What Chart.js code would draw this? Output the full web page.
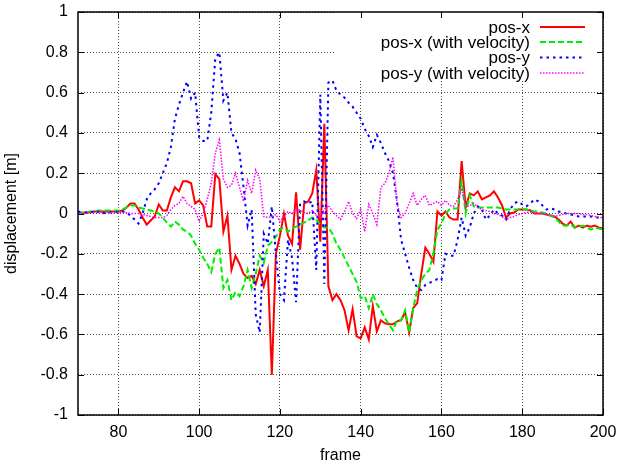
<!DOCTYPE html>
<html><head><meta charset="utf-8">
<script src="https://cdn.jsdelivr.net/npm/chart.js@4/dist/chart.umd.min.js"></script>
<style>html,body{margin:0;padding:0;background:#fff}canvas{display:block}</style>
</head><body>
<canvas id="c" width="619" height="463"></canvas>
<script>
const frames = [
70,71,72,73,74,75,76,77,78,79,
80,81,82,83,84,85,86,87,88,89,
90,91,92,93,94,95,96,97,98,99,
100,101,102,103,104,105,106,107,108,109,
110,111,112,113,114,115,116,117,118,119,
120,121,122,123,124,125,126,127,128,129,
130,131,132,133,134,135,136,137,138,139,
140,141,142,143,144,145,146,147,148,149,
150,151,152,153,154,155,156,157,158,159,
160,161,162,163,164,165,166,167,168,169,
170,171,172,173,174,175,176,177,178,179,
180,181,182,183,184,185,186,187,188,189,
190,191,192,193,194,195,196,197,198,199,
200];
const posX = [
0,0,0.005,0.005,0.01,0.01,0.01,0.01,0.01,0.01,
0.01,0.015,0.03,0.05,0.05,0.02,-0.02,-0.055,-0.035,-0.015,
0.045,0.015,0.015,0.08,0.13,0.11,0.16,0.16,0.15,0.05,
0.065,0.04,-0.065,-0.065,0.195,0.17,-0.09,-0.01,-0.28,-0.21,
-0.25,-0.3,-0.32,-0.31,-0.35,-0.28,-0.36,-0.28,-0.8,-0.2,
-0.11,0,-0.11,-0.15,0.105,-0.18,0.05,0.06,0.1,0.215,
-0.14,0.445,-0.36,-0.43,-0.4,-0.43,-0.48,-0.58,-0.475,-0.61,
-0.62,-0.565,-0.625,-0.46,-0.585,-0.53,-0.545,-0.55,-0.55,-0.535,
-0.53,-0.49,-0.59,-0.47,-0.445,-0.3,-0.17,-0.2,-0.24,0.01,
-0.01,0.01,-0.02,-0.03,-0.03,0.26,0.03,0.1,0.09,0.11,
0.07,0.08,0.09,0.11,0.08,0.04,-0.02,0,0.005,0.02,
0.02,0.02,0.015,0,0,0,-0.005,-0.01,-0.015,-0.03,
-0.05,-0.06,-0.04,-0.07,-0.06,-0.07,-0.06,-0.065,-0.06,-0.07,
-0.075];
const posXVel = [
0,0.005,0.005,0.01,0.01,0.015,0.015,0.015,0.015,0.015,
0.015,0.02,0.03,0.04,0.04,0.03,0.025,0.02,0.015,0.01,
0,-0.02,-0.045,-0.065,-0.04,-0.055,-0.08,-0.09,-0.11,-0.15,
-0.18,-0.22,-0.25,-0.29,-0.2,-0.17,-0.37,-0.33,-0.43,-0.39,
-0.41,-0.36,-0.28,-0.37,-0.3,-0.21,-0.245,-0.16,-0.14,-0.115,
-0.08,-0.07,-0.09,-0.075,-0.065,-0.055,-0.045,-0.035,-0.02,-0.03,
-0.055,-0.07,-0.07,-0.1,-0.15,-0.18,-0.22,-0.26,-0.3,-0.34,
-0.42,-0.41,-0.47,-0.4,-0.45,-0.48,-0.52,-0.55,-0.58,-0.53,
-0.53,-0.48,-0.59,-0.47,-0.38,-0.33,-0.3,-0.28,-0.2,-0.08,
-0.05,0,0.02,0.025,0.026,0.16,0,0.09,0.035,0.03,
0.03,0.03,0.03,0.03,0.03,0.025,0.02,0.02,0.02,0.02,
0.02,0.02,0.015,0.01,0.01,0.005,0,-0.01,-0.02,-0.04,
-0.06,-0.06,-0.055,-0.07,-0.065,-0.06,-0.07,-0.08,-0.07,-0.075,
-0.08];
const posY = [
0.01,0.005,0.005,0.01,0.005,0.01,0,0.005,0.005,0.01,
0.005,0.01,0.005,-0.01,-0.03,-0.05,0,0.07,0.1,0.12,
0.15,0.2,0.25,0.33,0.47,0.54,0.6,0.655,0.57,0.6,
0.38,0.36,0.36,0.5,0.77,0.8,0.56,0.6,0.4,0.37,
0.3,0.13,-0.06,0.02,-0.5,-0.59,-0.1,-0.15,0.035,-0.2,
-0.4,-0.43,-0.13,-0.22,-0.44,0.05,0.06,0.05,0.06,-0.28,
0.59,-0.35,0.65,0.66,0.61,0.59,0.575,0.55,0.53,0.5,
0.47,0.42,0.385,0.33,0.39,0.35,0.3,0.26,0.2,0.06,
-0.13,-0.2,-0.27,-0.33,-0.37,-0.38,-0.355,-0.345,-0.335,-0.325,
-0.33,-0.2,-0.21,-0.21,-0.13,-0.02,-0.11,-0.07,0,0.035,
0.02,-0.03,-0.01,0.02,0,-0.01,-0.03,0.02,0.05,0.06,
0.045,0.035,0.05,0.07,0.06,0.04,0.02,0.025,0.02,0.01,
0.005,0,-0.005,-0.01,-0.015,-0.015,-0.015,-0.015,-0.02,-0.02,
-0.02];
const posYVel = [
0,0.005,0.005,0.005,0.005,0.01,0.005,0.005,0.005,0.005,
0.005,0.005,0.005,0,0,0,-0.005,-0.01,-0.015,-0.02,
-0.02,-0.02,-0.01,0.02,0.04,0.05,0.085,0.05,0.035,0.02,
-0.04,0,0.07,0.15,0.3,0.365,0.17,0.13,0.14,0.2,
0.13,0.06,0.165,0.1,0.215,0.17,-0.015,-0.02,-0.015,-0.005,
-0.04,-0.015,0.01,0,0.025,0.015,0.005,0,0.015,-0.01,
-0.02,0.02,0.04,0.01,-0.01,-0.03,0.01,0.06,0,-0.025,
0.02,-0.09,0.045,0,-0.055,0.13,0.15,0.2,0.28,0.05,
-0.02,0,0.05,0.1,0.04,0.07,0.09,0.04,0.05,0.06,
0.04,0.065,0.04,0.035,0.07,0.125,0.03,0.04,0.05,0.03,
0.02,0.015,0.01,0,-0.005,-0.015,-0.03,-0.02,-0.015,-0.005,
0,0.005,0.008,0.005,0,0,-0.005,-0.01,-0.015,-0.01,
-0.005,0,0,0,0,-0.005,-0.005,-0.01,-0.015,-0.02,
-0.02];
const seriesNames = ['pos-x','pos-x (with velocity)','pos-y','pos-y (with velocity)'];
const xTickValues = [80,100,120,140,160,180,200];
const xAxisTitle = 'frame';
const yAxisTitle = 'displacement [m]';

const FONT = '"Liberation Sans", Arial, Helvetica, sans-serif';
function pts(arr){ return frames.map((f,i)=>({x:f,y:arr[i]})); }

const gp = {
  id:'gp',
  beforeDatasetsDraw(chart){
    const {ctx, chartArea:a} = chart;
    ctx.save();
    ctx.fillStyle='#fff';
    ctx.fillRect(334, a.top, a.right-334, 80-a.top);
    ctx.restore();
  },
  afterDatasetsDraw(chart){
    const {ctx, chartArea:a, scales:{x,y}} = chart;
    ctx.save();
    ctx.strokeStyle='#000'; ctx.lineWidth=1;
    const L=6;
    ctx.beginPath();
    x.ticks.forEach(t=>{ const px=Math.round(x.getPixelForValue(t.value))+0.5;
      ctx.moveTo(px,a.bottom); ctx.lineTo(px,a.bottom-L); ctx.moveTo(px,a.top); ctx.lineTo(px,a.top+L);});
    y.ticks.forEach(t=>{ const py=Math.round(y.getPixelForValue(t.value))+0.5;
      ctx.moveTo(a.left,py); ctx.lineTo(a.left+L,py); ctx.moveTo(a.right,py); ctx.lineTo(a.right-L,py);});
    ctx.stroke();
    ctx.lineWidth=1.5;
    ctx.strokeRect(a.left,a.top,a.right-a.left,a.bottom-a.top);
    ctx.restore();
  },
  afterDraw(chart){
    const {ctx} = chart;
    const rows=[27,42,57.5,73];
    ctx.save();
    ctx.font = '17px '+FONT;
    ctx.textAlign='right'; ctx.textBaseline='middle';
    chart.data.datasets.forEach((d,i)=>{
      const yy=rows[i];
      ctx.fillStyle='#000';
      ctx.fillText(d.label,530,yy+1);
      ctx.strokeStyle=d.borderColor; ctx.lineWidth=d.borderWidth;
      ctx.setLineDash(d.borderDash||[]);
      ctx.beginPath(); ctx.moveTo(540,yy); ctx.lineTo(585,yy); ctx.stroke();
    });
    ctx.restore();
  }
};

const common = {fill:false, pointRadius:0, tension:0, borderJoinStyle:'miter'};
new Chart(document.getElementById('c'), {
  type:'line',
  data:{datasets:[
    Object.assign({label:seriesNames[0], data:pts(posX), borderColor:'#ff0000', borderWidth:2, order:4}, common),
    Object.assign({label:seriesNames[1], data:pts(posXVel), borderColor:'#00ee00', borderWidth:2, borderDash:[6,3], order:3}, common),
    Object.assign({label:seriesNames[2], data:pts(posY), borderColor:'#0000ff', borderWidth:2, borderDash:[2.5,4], order:2}, common),
    Object.assign({label:seriesNames[3], data:pts(posYVel), borderColor:'#ff00ff', borderWidth:1.5, borderDash:[1.5,1.5], order:1}, common)
  ]},
  options:{
    responsive:false, animation:false, devicePixelRatio:1,
    layout:{padding:{left:0,right:16,top:12,bottom:0}},
    plugins:{legend:{display:false}, tooltip:{enabled:false}},
    scales:{
      x:{type:'linear', min:70, max:200,
        afterFit(s){ s.height=48; s.paddingLeft=0; s.paddingRight=0; },
        afterBuildTicks(s){ s.ticks=xTickValues.map(v=>({value:v})); },
        ticks:{color:'#000', font:{family:FONT,size:16}, padding:8, maxRotation:0, callback:v=>String(v)},
        grid:{color:'rgba(0,0,0,0.7)', drawTicks:false, lineWidth:1},
        border:{display:false, dash:[1,2]},
        title:{display:true, text:xAxisTitle, color:'#000', font:{family:FONT,size:16, lineHeight:0.9}, padding:{top:0,bottom:0}}
      },
      y:{type:'linear', min:-1, max:1,
        afterFit(s){ s.width=78; s.paddingTop=0; s.paddingBottom=0; },
        ticks:{stepSize:0.2, color:'#000', font:{family:FONT,size:16}, padding:10, callback:v=>String(Math.round(v*10)/10)},
        grid:{color:'rgba(0,0,0,0.7)', drawTicks:false, lineWidth:1},
        border:{display:false, dash:[1,2]},
        title:{display:true, text:yAxisTitle, color:'#000', font:{family:FONT,size:16, lineHeight:1}, padding:{top:4,bottom:0}}
      }
    }
  },
  plugins:[gp]
});
</script>
</body></html>
